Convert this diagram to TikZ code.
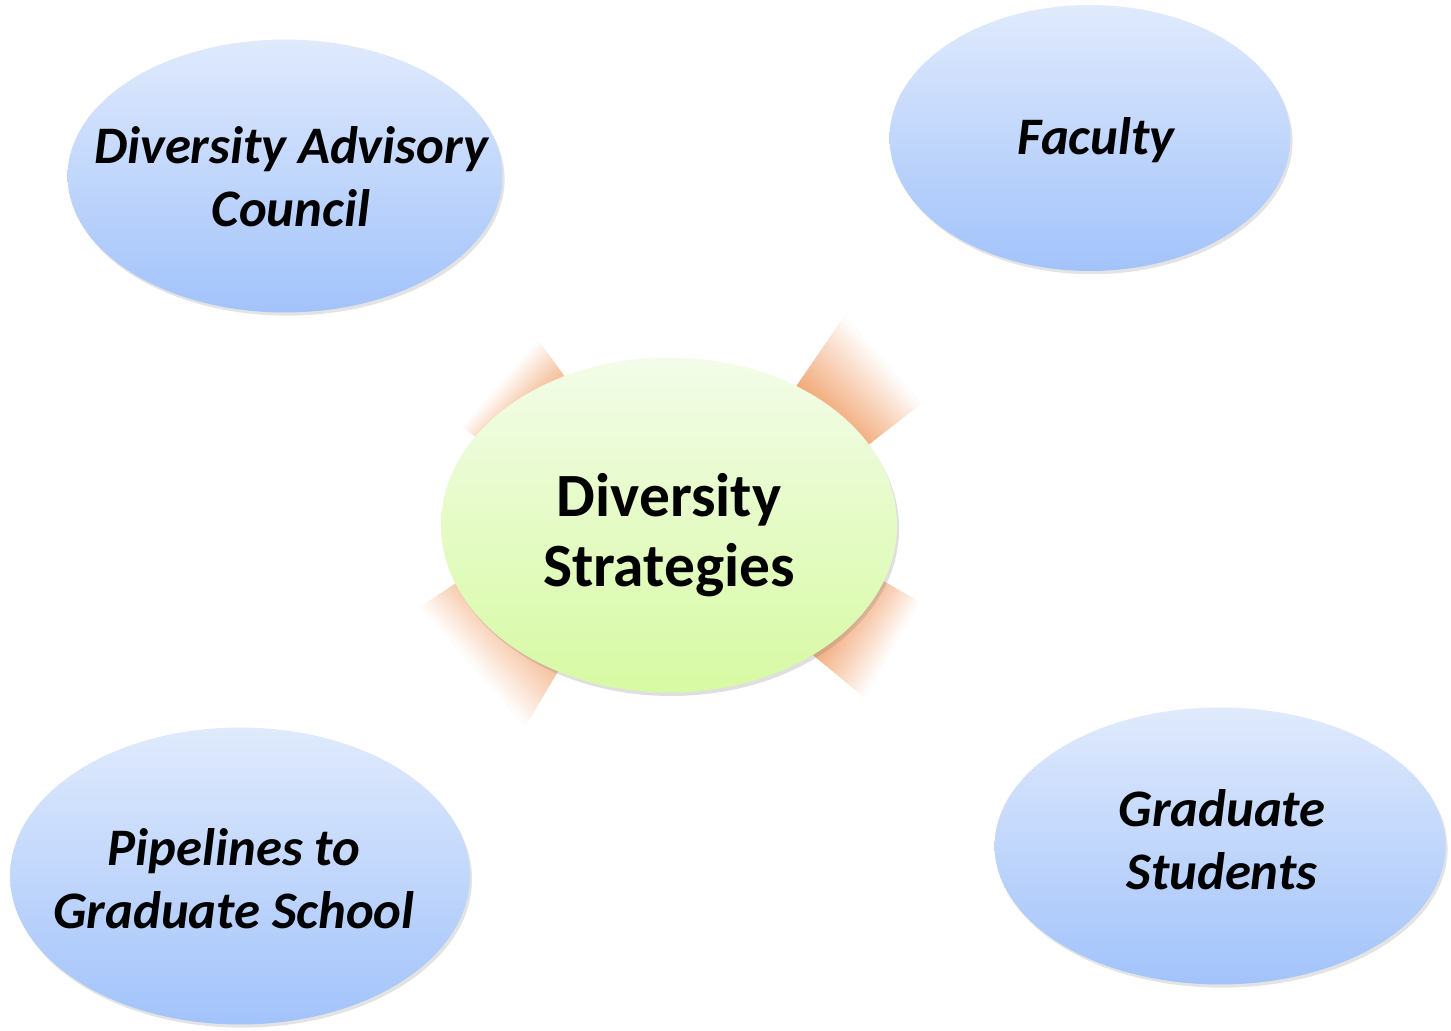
\documentclass[tikz,border=0pt]{standalone}
\usepackage{fontspec}
\setmainfont{Carlito}
\usepackage{tikz}
\usetikzlibrary{shapes.geometric,shadows,calc}
\definecolor{ovaltop}{RGB}{224, 234, 252}
\definecolor{ovalbottom}{RGB}{162, 195, 251}
\definecolor{hubtop}{RGB}{243, 252, 233}
\definecolor{hubbottom}{RGB}{215, 250, 163}
\definecolor{stubc}{RGB}{242, 168, 118}

\begin{document}
\begin{tikzpicture}[x=0.02cm, y=-0.02cm,
    outer/.style={ellipse, top color=ovaltop, bottom color=ovalbottom,
        drop shadow={shadow xshift=1.2pt, shadow yshift=-1.8pt, opacity=0.22}},
    hub/.style={ellipse, top color=hubtop, bottom color=hubbottom,
        drop shadow={shadow xshift=1.2pt, shadow yshift=-2pt, opacity=0.25}},
    otext/.style={align=center, font=\fontsize{30}{36}\selectfont\bfseries\itshape},
    htext/.style={align=center, font=\fontsize{35}{40}\selectfont\bfseries}]
    \useasboundingbox (0,0) rectangle (1451,1031);

    % Arrow stubs (inner corners hidden under the hub)
    \coordinate (ul-il) at (511,462);  \coordinate (ul-ol) at (462,427);
    \coordinate (ul-ir) at (587,407);  \coordinate (ul-or) at (538,340);
    \coordinate (ur-il) at (776,416);  \coordinate (ur-ol) at (845,315);
    \coordinate (ur-ir) at (840,467);  \coordinate (ur-or) at (922,403);
    \coordinate (ll-il) at (503,552);  \coordinate (ll-ol) at (420,607);
    \coordinate (ll-ir) at (589,619);  \coordinate (ll-or) at (525,727);
    \coordinate (lr-il) at (850,562);  \coordinate (lr-ol) at (920,602);
    \coordinate (lr-ir) at (790,636);  \coordinate (lr-or) at (865,698);
    \foreach \s in {ul,ur,ll,lr}{
        \foreach \i in {0,...,39}{
            \pgfmathsetmacro\ta{\i/40}
            \pgfmathsetmacro\tb{min(1,(\i+1.6)/40)}
            \pgfmathtruncatemacro\p{min(100,100*(1-\i/40)/0.72)}
            \fill[stubc!\p!white] ($(\s-il)!\ta!(\s-ol)$) -- ($(\s-il)!\tb!(\s-ol)$)
                -- ($(\s-ir)!\tb!(\s-or)$) -- ($(\s-ir)!\ta!(\s-or)$) -- cycle;
        }
    }

    % Hub
    \node[hub, minimum width=9.12cm, minimum height=6.7cm] (hub) at (669,525) {};
    \node[htext] (hub-t) at (669,535) {Diversity\\Strategies};

    % Outer ovals
    \node[outer, minimum width=8.7cm, minimum height=5.46cm] (dac) at (285,176) {};
    \node[otext] (dac-t) at (291,177) {Diversity Advisory\\Council};
    \node[outer, minimum width=8.02cm, minimum height=5.32cm] (fac) at (1090,138) {};
    \node[otext] (fac-t) at (1096,140) {Faculty};
    \node[outer, minimum width=9.2cm, minimum height=5.94cm] (pipe) at (240,876) {};
    \node[otext] (pipe-t) at (234,879) {Pipelines to\\Graduate School};
    \node[outer, minimum width=9.02cm, minimum height=5.54cm] (grad) at (1220,846) {};
    \node[otext] (grad-t) at (1222,840) {Graduate\\Students};
\end{tikzpicture}
\end{document}
